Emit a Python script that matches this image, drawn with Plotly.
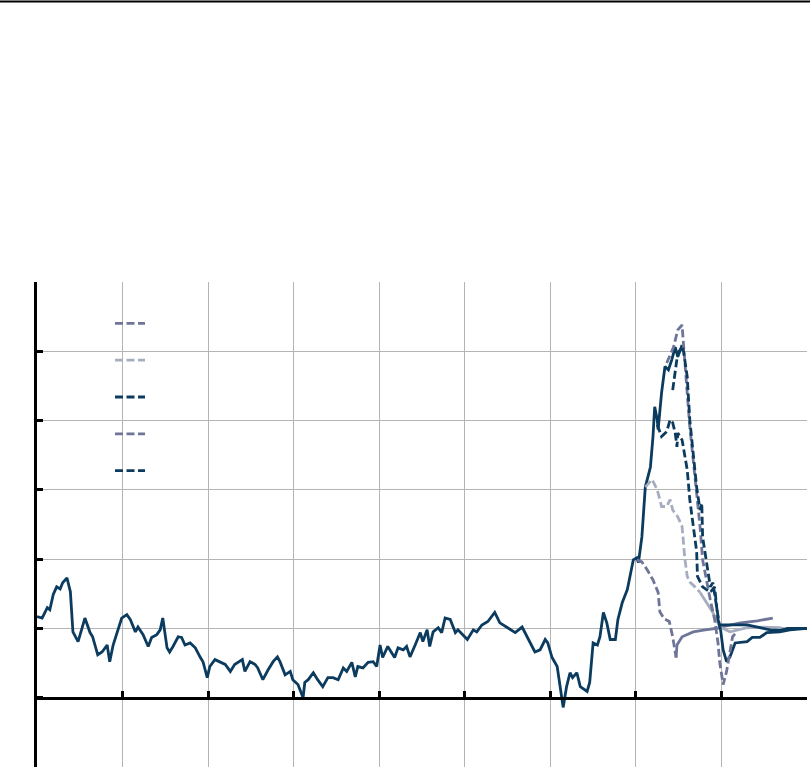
import plotly.graph_objects as go

# ---------------- data (x in axis units 0..9, y in axis units -1..6) ----------------
actual_x = [0.00, 0.06, 0.12, 0.15, 0.19, 0.23, 0.27, 0.30, 0.35, 0.39, 0.42, 0.48, 0.53, 0.56, 0.62, 0.65,
            0.71, 0.76, 0.82, 0.85, 0.89, 0.94, 0.99, 1.05, 1.09, 1.15, 1.18, 1.24, 1.30, 1.34, 1.40, 1.44,
            1.47, 1.52, 1.55, 1.59, 1.65, 1.69, 1.73, 1.79, 1.85, 1.91, 1.94, 1.99, 2.02, 2.08, 2.14, 2.20,
            2.26, 2.31, 2.40, 2.43, 2.49, 2.55, 2.58, 2.64, 2.70, 2.76, 2.81, 2.84, 2.90, 2.96, 2.99, 3.05,
            3.11, 3.13, 3.17, 3.23, 3.28, 3.34, 3.40, 3.46, 3.52, 3.58, 3.62, 3.68, 3.72, 3.75, 3.81, 3.87,
            3.93, 3.97, 4.01, 4.04, 4.10, 4.15, 4.18, 4.22, 4.28, 4.32, 4.36, 4.42, 4.48, 4.51, 4.56, 4.59,
            4.63, 4.69, 4.73, 4.77, 4.83, 4.89, 4.92, 5.03, 5.10, 5.14, 5.20, 5.27, 5.35, 5.41, 5.50, 5.59,
            5.67, 5.70, 5.76, 5.82, 5.88, 5.94, 5.97, 6.02, 6.08, 6.11, 6.15, 6.19, 6.23, 6.26, 6.31, 6.35,
            6.43, 6.46, 6.50, 6.55, 6.58, 6.62, 6.66, 6.70, 6.76, 6.79, 6.84, 6.90, 6.97, 7.01, 7.03, 7.07,
            7.11, 7.17, 7.20, 7.22, 7.25, 7.26, 7.30, 7.34, 7.38, 7.42, 7.46, 7.49, 7.54]
actual_y = [1.17, 1.15, 1.30, 1.27, 1.49, 1.60, 1.57, 1.66, 1.73, 1.53, 0.95, 0.81, 1.02, 1.15, 0.94, 0.88,
            0.62, 0.66, 0.76, 0.52, 0.76, 0.95, 1.15, 1.20, 1.13, 0.95, 1.02, 0.91, 0.74, 0.87, 0.91, 0.98,
            1.15, 0.72, 0.66, 0.74, 0.88, 0.87, 0.76, 0.79, 0.72, 0.58, 0.52, 0.29, 0.45, 0.55, 0.51, 0.48,
            0.38, 0.48, 0.55, 0.38, 0.52, 0.48, 0.43, 0.26, 0.40, 0.52, 0.59, 0.52, 0.33, 0.38, 0.26, 0.19,
            0.00, 0.22, 0.26, 0.36, 0.26, 0.16, 0.29, 0.29, 0.26, 0.43, 0.38, 0.51, 0.30, 0.45, 0.43, 0.51,
            0.52, 0.45, 0.76, 0.58, 0.74, 0.65, 0.58, 0.72, 0.69, 0.74, 0.59, 0.76, 0.94, 0.81, 0.98, 0.74,
            0.95, 1.01, 0.94, 1.15, 1.13, 0.94, 0.98, 0.84, 0.98, 0.95, 1.05, 1.10, 1.23, 1.08, 1.01, 0.94,
            1.02, 0.95, 0.79, 0.66, 0.69, 0.84, 0.79, 0.58, 0.45, 0.22, -0.14, 0.16, 0.36, 0.29, 0.36, 0.16,
            0.09, 0.22, 0.79, 0.76, 0.88, 1.23, 1.08, 0.84, 0.84, 1.13, 1.37, 1.56, 1.99, 2.02, 1.95, 2.32,
            3.04, 3.33, 3.77, 4.20, 4.01, 3.87, 4.40, 4.78, 4.73, 4.88, 5.06, 4.92, 5.09]

# forecast 1 (slate) – dashed part, then solid tail
fc1_x = [7.01, 7.07, 7.13, 7.20, 7.26, 7.28, 7.33, 7.39, 7.43, 7.47]
fc1_y = [1.99, 1.96, 1.85, 1.70, 1.52, 1.24, 1.14, 1.10, 0.88, 0.58]
fc1_tail_x = [7.47, 7.48, 7.54, 7.67, 7.81, 7.99]
fc1_tail_y = [0.58, 0.76, 0.88, 0.95, 0.98, 1.01]

# forecast 2 (light grey) – dashed part, then solid tail
fc2_x = [7.11, 7.19, 7.25, 7.30, 7.36, 7.40, 7.43, 7.49, 7.54, 7.55, 7.57, 7.60, 7.63, 7.69, 7.75]
fc2_y = [3.04, 3.15, 3.00, 2.76, 2.76, 2.86, 2.71, 2.61, 2.47, 2.28, 2.03, 1.75, 1.67, 1.60, 1.52]
fc2_tail_x = [7.75, 7.83, 7.90, 7.98, 8.10, 8.30, 8.49, 8.68, 8.77]
fc2_tail_y = [1.52, 1.37, 1.23, 1.02, 0.95, 1.01, 1.02, 1.01, 0.98]

# forecast 3 (dark) – dashed part, then solid tail
fc3_x = [7.25, 7.30, 7.36, 7.40, 7.43, 7.46, 7.48, 7.49, 7.54, 7.60, 7.63, 7.67, 7.71, 7.72, 7.78, 7.87,
         7.92, 7.96, 7.99]
fc3_y = [3.94, 3.77, 3.84, 4.01, 3.97, 3.82, 3.62, 3.82, 3.72, 3.29, 2.86, 2.47, 2.11, 1.75, 1.60, 1.52,
         1.60, 1.13, 0.98]
fc3_tail_x = [7.99, 8.02, 8.06, 8.10, 8.16, 8.30, 8.36, 8.45, 8.53, 8.68, 8.80, 9.00]
fc3_tail_y = [0.98, 0.69, 0.52, 0.59, 0.79, 0.81, 0.87, 0.87, 0.94, 0.95, 0.98, 1.00]

# forecast 4 (slate, highest) – dashed part, then solid tail
fc4_x = [7.36, 7.44, 7.49, 7.54, 7.55, 7.60, 7.63, 7.67, 7.71, 7.75, 7.78, 7.83, 7.87, 7.92, 7.96, 7.98,
         8.02, 8.06, 8.10, 8.13, 8.18]
fc4_y = [4.83, 5.06, 5.31, 5.38, 5.21, 4.40, 3.91, 3.43, 2.96, 2.47, 1.99, 1.66, 1.41, 1.13, 0.79, 0.51,
         0.19, 0.38, 0.69, 0.88, 0.95]
fc4_tail_x = [7.99, 8.22, 8.42, 8.60]
fc4_tail_y = [1.02, 1.08, 1.11, 1.15]

# forecast 5 (dark, upper) – dashed part, then solid tail
fc5_x = [7.43, 7.46, 7.49, 7.55, 7.60, 7.63, 7.67, 7.71, 7.75, 7.77, 7.78, 7.83, 7.87, 7.90, 7.95, 7.98]
fc5_y = [4.44, 4.69, 4.98, 5.06, 4.63, 4.01, 3.54, 3.04, 2.71, 2.81, 2.32, 1.95, 1.60, 1.66, 1.27, 1.02]
fc5_tail_x = [7.98, 8.30, 8.45, 8.57, 8.68, 8.77, 9.00]
fc5_tail_y = [1.05, 1.05, 1.01, 0.98, 0.97, 1.00, 1.00]

x_ticks = [0, 1, 2, 3, 4, 5, 6, 7, 8, 9]
y_ticks = [-1, 0, 1, 2, 3, 4, 5, 6]

# ---------------- styles ----------------
NAVY = "#0b3b5f"
SLATE = "#6e7599"
LIGHT = "#a6adbe"
DASH = "8px,3.5px"
LW = 2.8

fig = go.Figure()

def add(x, y, color, dashed, legend=False):
    fig.add_trace(go.Scatter(
        x=x, y=y, mode="lines", name=" ",
        line=dict(color=color, width=LW, dash=DASH if dashed else "solid"),
        showlegend=legend, hoverinfo="skip"))

# solid tails and actuals
add(fc1_tail_x, fc1_tail_y, SLATE, False)
add(fc4_tail_x, fc4_tail_y, SLATE, False)
add(fc2_tail_x, fc2_tail_y, LIGHT, False)
add(fc5_tail_x, fc5_tail_y, NAVY, False)
add(fc3_tail_x, fc3_tail_y, NAVY, False)
add(actual_x, actual_y, NAVY, False)
# dashed forecasts (legend entries)
add(fc1_x, fc1_y, SLATE, True, True)
add(fc2_x, fc2_y, LIGHT, True, True)
add(fc3_x, fc3_y, NAVY, True, True)
add(fc4_x, fc4_y, SLATE, True, True)
add(fc5_x, fc5_y, NAVY, True, True)

L, R, T, B = 37, 3, 282, 2
W, H = 810, 769
plot_h = H - T - B
plot_w = W - L - R

fig.update_layout(
    width=W, height=H,
    margin=dict(l=L, r=R, t=T, b=B),
    paper_bgcolor="white", plot_bgcolor="white",
    font=dict(family="Liberation Sans, Arial, sans-serif", color="white"),
    legend=dict(x=(110 - L) / plot_w, y=(H - B - 300) / plot_h, xanchor="left", yanchor="top",
                bgcolor="rgba(0,0,0,0)", font=dict(size=26, color="white"),
                itemwidth=30, tracegroupgap=0),
    xaxis=dict(range=[0, 9], tickvals=x_ticks, showticklabels=False,
               showgrid=True, gridcolor="#b4b4b4", gridwidth=1, zeroline=False,
               showline=True, linecolor="black", linewidth=3,
               anchor="free", position=(H - B - 698) / plot_h,
               ticks="inside", ticklen=6, tickwidth=3, tickcolor="black"),
    yaxis=dict(range=[-1, 6], tickvals=y_ticks, showticklabels=False,
               showgrid=True, gridcolor="#b4b4b4", gridwidth=1, zeroline=False,
               showline=True, linecolor="black", linewidth=3,
               ticks="inside", ticklen=6, tickwidth=3, tickcolor="black"),
    showlegend=True,
)

# thin rule across the top of the page
fig.add_shape(type="line", xref="paper", yref="paper",
              x0=-L / plot_w, x1=(W - L) / plot_w,
              y0=(H - B - 1.5) / plot_h, y1=(H - B - 1.5) / plot_h,
              line=dict(color="black", width=2))

fig.write_html("out.html", config={"displayModeBar": False},
               post_script="document.body.style.margin='0';document.body.style.overflow='hidden';")
